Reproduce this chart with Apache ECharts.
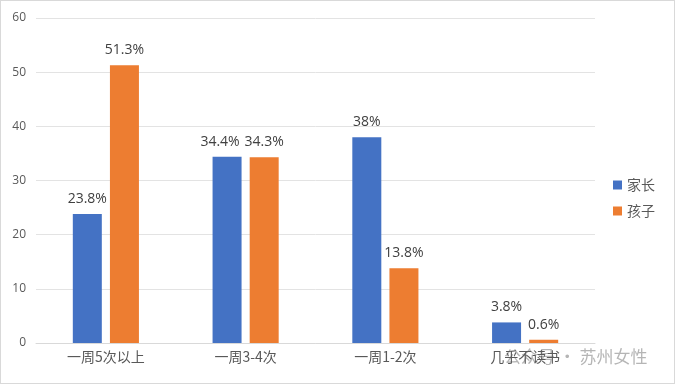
<!DOCTYPE html>
<html><head><meta charset="utf-8">
<script src="https://cdn.jsdelivr.net/npm/echarts@6/dist/echarts.min.js"></script>
<style>html,body{margin:0;padding:0;background:#fff}#c{width:675px;height:384px;box-sizing:border-box;border:1px solid #d9d9d9}</style>
</head><body><div id="c"></div>
<script>
var categories = ['一周5次以上', '一周3-4次', '一周1-2次', '几乎不读书'];
var parents = [23.8, 34.4, 38, 3.8];
var children = [51.3, 34.3, 13.8, 0.6];
var seriesNames = ['家长', '孩子'];
var font = '"Noto Sans CJK SC", "Microsoft YaHei", sans-serif';
var numFont = '"Open Sans", "Noto Sans CJK SC", sans-serif';
var chart = echarts.init(document.getElementById('c'), null, {renderer: 'canvas'});
function lbl(p){ return p.value + '%'; }
// shift the overlapping label left, as the original does
var parentData = parents.map(function(v, i){
  return i === 1 ? {value: v, label: {offset: [-7, 0]}} : v;
});
chart.setOption({
  animation: false,
  grid: {left: 35, right: 79, top: 17, bottom: 40},
  legend: {
    orient: 'vertical', right: 14, top: 172, itemWidth: 9, itemHeight: 9, itemGap: 12,
    icon: 'rect', textStyle: {color: '#595959', fontSize: 14, fontFamily: font},
    data: seriesNames
  },
  xAxis: {
    type: 'category', data: categories,
    axisLine: {lineStyle: {color: '#d9d9d9'}}, axisTick: {show: false},
    axisLabel: {color: '#595959', fontSize: 14, fontFamily: font, margin: 7}
  },
  yAxis: {
    type: 'value', min: 0, max: 60, interval: 10,
    axisLine: {show: false}, axisTick: {show: false},
    splitLine: {lineStyle: {color: '#e3e3e3'}},
    axisLabel: {color: '#595959', fontSize: 12, fontFamily: numFont, margin: 10}
  },
  series: [
    {name: seriesNames[0], type: 'bar', data: parentData, barWidth: 29, barGap: '28%',
     itemStyle: {color: '#4472C4'},
     label: {show: true, position: 'top', distance: 8, formatter: lbl, color: '#404040', fontSize: 14, fontFamily: numFont}},
    {name: seriesNames[1], type: 'bar', data: children, barWidth: 29,
     itemStyle: {color: '#ED7D31'},
     label: {show: true, position: 'top', distance: 8, formatter: lbl, color: '#404040', fontSize: 14, fontFamily: numFont}}
  ],
  graphic: [{type: 'text', left: 503, top: 347, style: {text: '公众号 · 苏州女性', fill: 'rgba(120,120,120,0.55)', font: '17px ' + font}}]
});
</script></body></html>
